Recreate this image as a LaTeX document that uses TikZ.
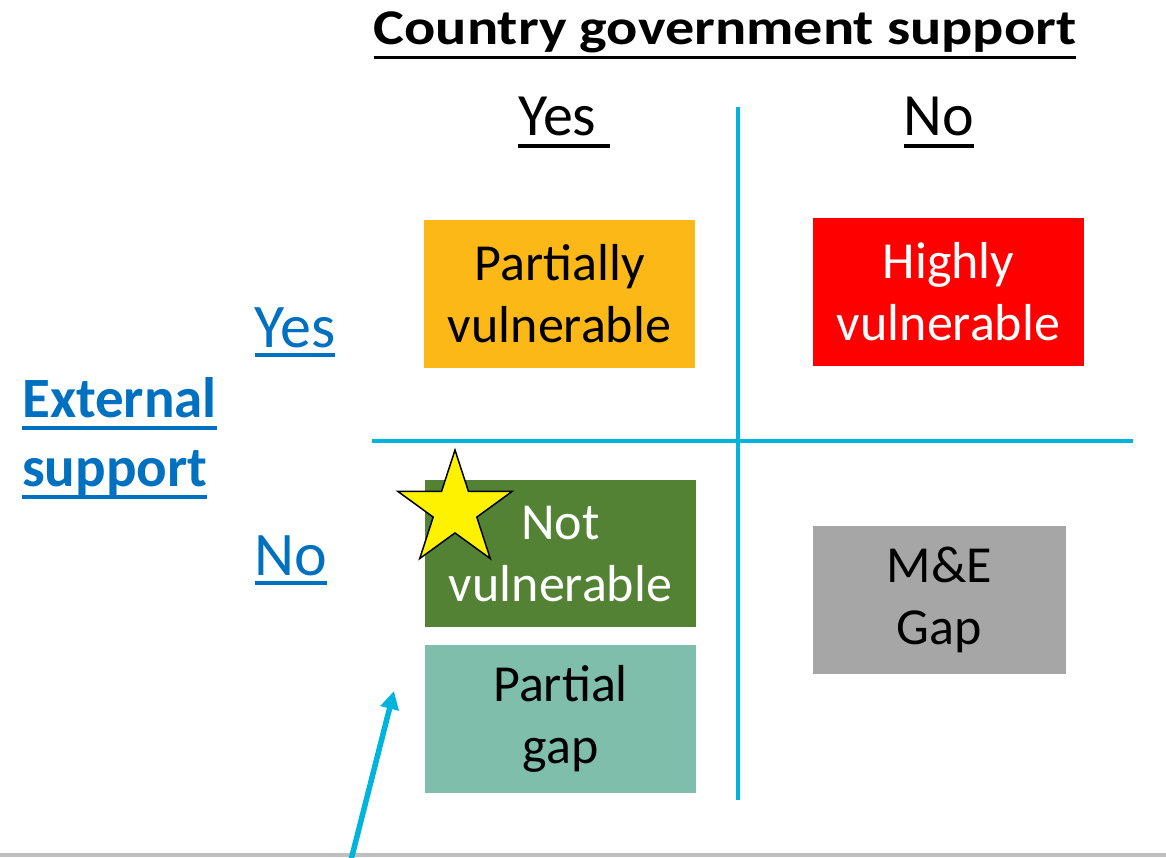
\documentclass[tikz,border=0pt]{standalone}
\usepackage{fontspec}
\usepackage{graphicx}
\setmainfont{Carlito}
\usetikzlibrary{positioning,shapes.geometric,arrows.meta}

\definecolor{lineblue}{RGB}{0,180,222}
\definecolor{textblue}{RGB}{0,112,192}
\definecolor{partorange}{RGB}{251,184,22}
\definecolor{highred}{RGB}{255,0,0}
\definecolor{notgreen}{RGB}{84,130,53}
\definecolor{gapteal}{RGB}{127,190,170}
\definecolor{megray}{RGB}{166,166,166}
\definecolor{rulegray}{RGB}{191,191,191}

% underlined text, the bar sits #1 below the baseline
\newcommand{\ulbar}[2][0.18em]{\setbox0=\hbox{#2}\rlap{\copy0}\rule[-#1]{\wd0}{0.065em}}

\begin{document}
\begin{tikzpicture}[x=1pt, y=-1pt,
    quad/.style={minimum width=271pt, minimum height=148pt, inner sep=0pt, align=center,
        font=\fontsize{52}{62}\selectfont},
    header/.style={anchor=base, inner sep=0pt, font=\fontsize{60}{72}\selectfont},
    rowlabel/.style={anchor=base, inner sep=0pt, text=textblue, font=\fontsize{62}{74}\selectfont},
    gridline/.style={line width=4pt, draw=lineblue},
    pointer/.style={line width=5.5pt, draw=lineblue, -{Triangle[length=18pt, width=18pt]}}]
    \useasboundingbox (0, 0) rectangle (1166, 857);

    % Headers
    \node[anchor=base, inner sep=0pt, font=\fontsize{50}{60}\selectfont\bfseries] (title) at (725, 44)
        {\scalebox{1.165}[1]{\ulbar[0.3em]{Country government support}}};
    \node[header] (colyes) at (564, 135) {\ulbar[0.22em]{Yes\ }};
    \node[header] (colno) at (939, 135) {\ulbar[0.22em]{No}};

    \node[rowlabel] (rowyes) at (295, 347) {\ulbar[0.16em]{Yes}};
    \node[rowlabel] (rowno) at (291, 575) {\ulbar[0.16em]{No}};
    \node[anchor=north west, inner sep=0pt, align=left, text=textblue,
        font=\fontsize{57}{69}\selectfont\bfseries] (extsupport) at (22, 377.5)
        {\ulbar[0.21em]{External}\\\ulbar[0.21em]{support}};

    % Grid
    \draw[gridline] (738, 107) -- (738, 800);
    \draw[gridline] (372, 441) -- (1133, 441);

    % Quadrants
    \node[quad, fill=partorange] (partvul) at (559.5, 294) {Partially\\vulnerable};
    \node[quad, fill=highred, text=white] (highvul) at (948.5, 292) {Highly\\vulnerable};
    \node[quad, fill=notgreen, minimum height=147pt, text=white] (notvul) at (560.5, 553.5) {Not\\vulnerable};
    \node[quad, fill=gapteal, below=18pt of notvul] (partgap) {Partial\\gap};
    \node[quad, fill=megray, minimum width=253pt] (megap) at (939.5, 600) {\raisebox{-4pt}{M\&E}\\\raisebox{-4pt}{Gap}};

    \node[star, star points=5, star point ratio=2.618, minimum size=120pt, inner sep=0pt,
        draw=black, line width=1.5pt, fill=yellow] (star) at (455, 510) {};

    % Pointer
    \draw[line width=4pt, rulegray] (0, 855) -- (1166, 855);
    \coordinate (pointtail) at (351, 860);
    \coordinate (pointtip) at (394, 691);
    \draw[pointer] (pointtail) -- (pointtip);
\end{tikzpicture}
\end{document}
